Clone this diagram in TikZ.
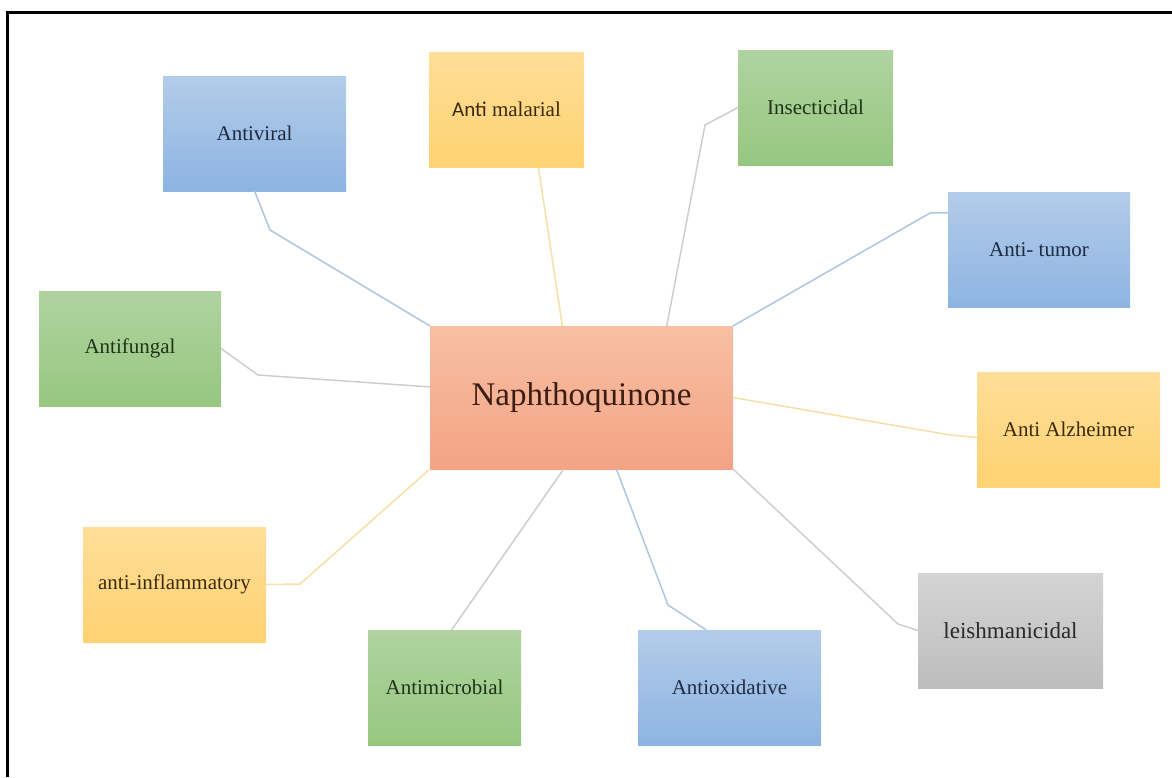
\documentclass[tikz,border=0pt]{standalone}
\usepackage{fontspec}
\setmainfont{Liberation Serif}
\newfontfamily\calibrifont{Carlito}
\usepackage{tikz}

\definecolor{bluetop}{HTML}{B3CCE9}
\definecolor{bluebot}{HTML}{8DB4E2}
\definecolor{greentop}{HTML}{B0D3A0}
\definecolor{greenbot}{HTML}{96C780}
\definecolor{yellowtop}{HTML}{FFDE98}
\definecolor{yellowbot}{HTML}{FFD272}
\definecolor{orangetop}{HTML}{F7BFA3}
\definecolor{orangebot}{HTML}{F4A385}
\definecolor{greytop}{HTML}{D4D4D4}
\definecolor{greybot}{HTML}{BDBDBD}
\definecolor{bluetext}{HTML}{1E2B43}
\definecolor{greentext}{HTML}{1F3317}
\definecolor{yellowtext}{HTML}{3B2A0C}
\definecolor{orangetext}{HTML}{3A1E14}
\definecolor{greytext}{HTML}{2A2A2A}
\definecolor{bluelink}{HTML}{AFC6E3}
\definecolor{yellowlink}{HTML}{F6E0A6}
\definecolor{greylink}{HTML}{CDCFCB}

\begin{document}
\begin{tikzpicture}
[x=1pt,y=-1pt,
box/.style={inner sep=0pt,outer sep=0pt,minimum height=115,font=\fontsize{21}{25}\selectfont},
bluebox/.style={box,top color=bluetop,bottom color=bluebot,text=bluetext},
greenbox/.style={box,top color=greentop,bottom color=greenbot,text=greentext},
yellowbox/.style={box,top color=yellowtop,bottom color=yellowbot,text=yellowtext},
greybox/.style={box,top color=greytop,bottom color=greybot,text=greytext},
centrebox/.style={box,top color=orangetop,bottom color=orangebot,text=orangetext,font=\fontsize{33}{38}\selectfont},
blueline/.style={draw=bluelink,line width=1.5pt},
yellowline/.style={draw=yellowlink,line width=1.5pt},
greyline/.style={draw=greylink,line width=1.5pt}]
\useasboundingbox (0,0) rectangle (1172,777);
\draw[line width=3pt] (7,777) -- (7,12) -- (1172,12);

\node[centrebox,minimum width=303,minimum height=143] (v0) at (581.5,397.5) {Naphthoquinone};

\node[bluebox,minimum width=183] (v1) at (254.5,133.5) {Antiviral};
\node[yellowbox,minimum width=155] (v2) at (506.5,109.5) {{\calibrifont Anti} malarial};
\node[greenbox,minimum width=155] (v3) at (815.5,107.5) {Insecticidal};
\node[bluebox,minimum width=182] (v4) at (1039,249.5) {Anti- tumor};
\node[greenbox,minimum width=182] (v5) at (130,348.5) {Antifungal};
\node[yellowbox,minimum width=183] (v6) at (1068.5,429.5) {Anti Alzheimer};
\node[yellowbox,minimum width=183] (v7) at (174.5,584.5) {anti-inflammatory};
\node[greenbox,minimum width=153] (v8) at (444.5,687.5) {Antimicrobial};
\node[bluebox,minimum width=183] (v9) at (729.5,687.5) {Antioxidative};
\node[greybox,minimum width=185,font=\fontsize{23}{27}\selectfont] (v10) at (1010.5,630.5) {leishmanicidal};

\coordinate (b1) at (270,230);
\coordinate (b3) at (705,125);
\coordinate (b4) at (930,213);
\coordinate (b5) at (258,375);
\coordinate (b6) at (950,435);
\coordinate (b7) at (300,584);
\coordinate (b9) at (668,605);
\coordinate (b10) at (898,624);

\foreach \from/\via/\to/\kind in {v1.south/b1/v0.north west/blueline,v3.west/b3/v0.40/greyline,v4.158/b4/v0.north east/blueline,v5.east/b5/v0.176/greyline,v6.185/b6/v0.east/yellowline,v7.east/b7/v0.south west/yellowline,v9.112/b9/v0.-64/blueline,v10.west/b10/v0.south east/greyline}
\draw[\kind] (\from) -- (\via) -- (\to);

\foreach \from/\to/\kind in {v2.-61/v0.105/yellowline,v8.83/v0.-104/greyline}
\draw[\kind] (\from) -- (\to);
\end{tikzpicture}
\end{document}
